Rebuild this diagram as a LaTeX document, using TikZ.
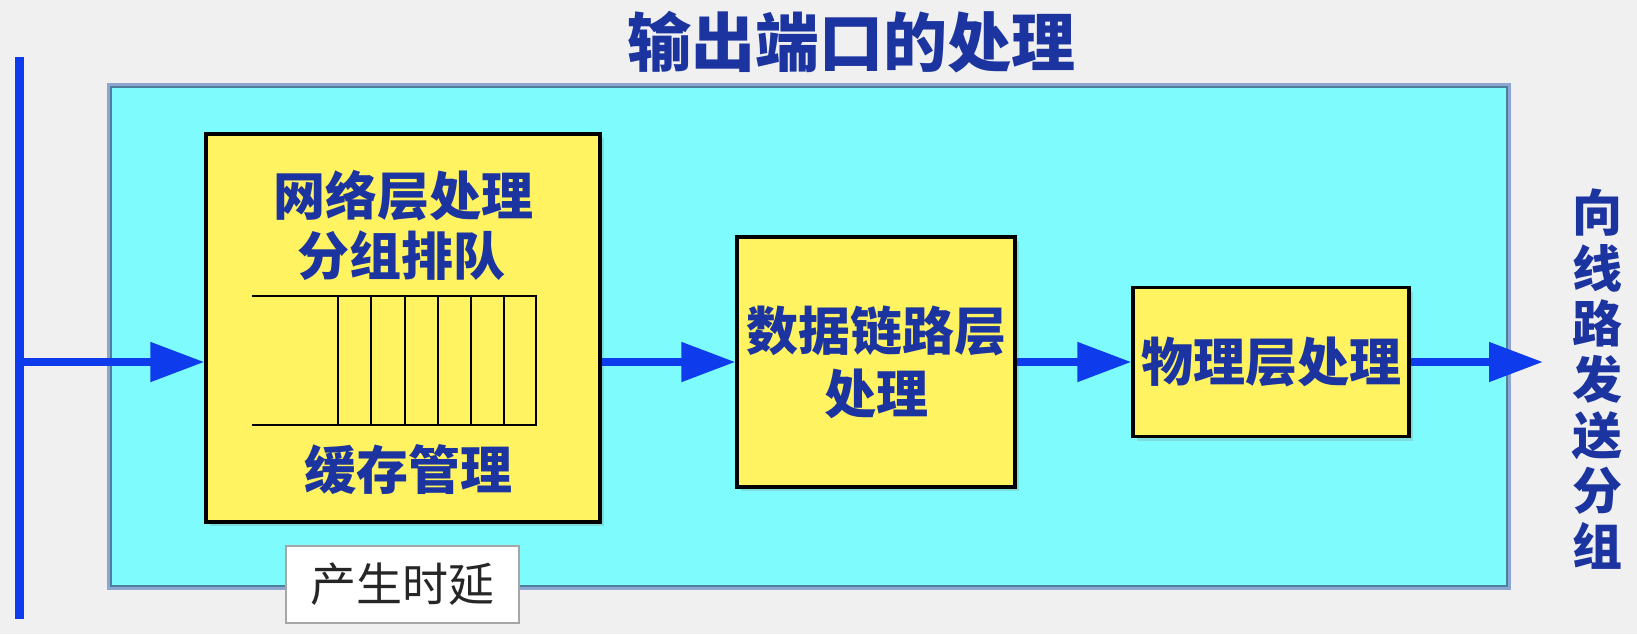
\documentclass[tikz,border=0pt]{standalone}
\usepackage{fontspec}
\setmainfont{Noto Sans CJK SC}
\usepackage{tikz}
\usetikzlibrary{arrows.meta,positioning,shadows}
\definecolor{slidebg}{RGB}{240,240,240}
\definecolor{portcyan}{RGB}{126,252,253}
\definecolor{portedge}{RGB}{141,166,207}
\definecolor{portline}{RGB}{77,127,154}
\definecolor{boxyellow}{RGB}{255,243,98}
\definecolor{textblue}{RGB}{28,52,160}
\definecolor{flowblue}{RGB}{14,60,236}
\tikzstyle{procbox} = [draw=black, fill=boxyellow, line width=1.6pt, rectangle, inner sep=0pt, drop shadow={shadow xshift=2pt, shadow yshift=-2pt, opacity=0.25}]
\tikzstyle{proctext} = [text=textblue, font=\fontsize{26}{31.5}\selectfont\bfseries, align=center, inner sep=0pt]
\tikzstyle{flow} = [draw=flowblue, line width=4pt, -{Triangle[length=27pt,width=19pt]}]

\begin{document}
\begin{tikzpicture}[x=0.5pt,y=-0.5pt]
\fill[slidebg] (0,0) rectangle (1637,634);
\useasboundingbox (0,0) rectangle (1637,634);
\node[text=textblue, font=\fontsize{32}{38}\selectfont\bfseries] (title) at (851,42) {输出端口的处理};
\coordinate (bustop) at (19,57);
\coordinate (busbot) at (19,619);
\coordinate (inport) at (19,362);
\coordinate (outport) at (1543,362);
\draw[flowblue, line width=4.5pt] (bustop) -- (busbot);
\node[draw=portedge, line width=1.5pt, fill=portcyan, minimum width=700.5pt, minimum height=252pt, inner sep=0pt] (port) at (808.5,336) {};
\draw[portline, line width=1pt] ([shift={(4,4)}]port.north west) rectangle ([shift={(-4,-4)}]port.south east);
\node[draw=gray!70, fill=white, line width=0.8pt, minimum width=116.5pt, minimum height=38.5pt, inner sep=0pt, text=black!85, font=\fontsize{23}{27}\selectfont] (delay) at (402.5,584.5) {产生时延};
\node[procbox, minimum width=197pt, minimum height=194pt] (net) at (403,328) {};
\node[proctext] (netname) at (403,196) {网络层处理};
\node[proctext] (queuename) at (401,256) {分组排队};
\node[proctext] (bufname) at (408,470) {缓存管理};
\draw[line width=0.8pt] (252,296) -- (536,296) -- (536,425) -- (252,425);
\foreach \x in {338,371,405,438,471,504}
    \draw[line width=0.8pt] (\x,296) -- (\x,425);
\node[procbox, proctext, minimum width=139pt, minimum height=125pt] (link) at (876,362) {数据链路层\\处理};
\node[procbox, proctext, minimum width=138pt, minimum height=74.5pt] (phys) at (1271,362) {物理层处理};
\node[text=textblue, font=\fontsize{25}{27.8}\selectfont\bfseries, align=center, inner sep=0pt] (out) at (1597,379) {向\\线\\路\\发\\送\\分\\组};
\draw[flow] (inport) -- (inport -| net.west);
\draw[flow] (net.east |- link.west) -- (link.west);
\draw[flow] (link) -- (phys);
\draw[flow] (phys) -- (outport);
\end{tikzpicture}
\end{document}
